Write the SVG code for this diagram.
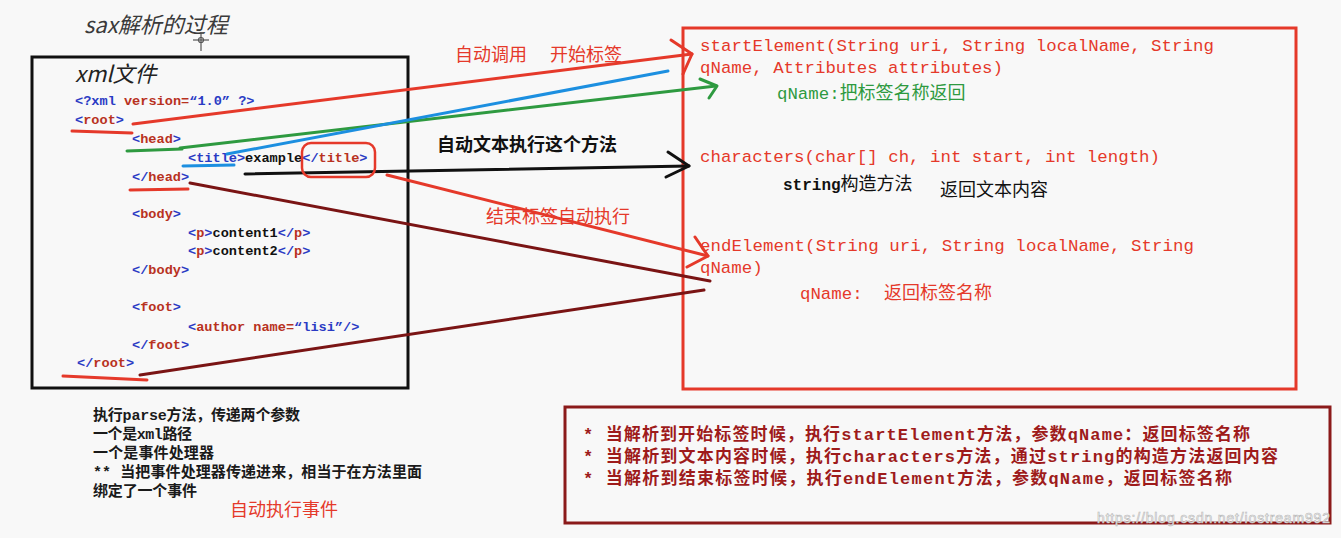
<svg xmlns="http://www.w3.org/2000/svg" width="1341" height="538" viewBox="0 0 1341 538">
<style>
.code{font-family:"Liberation Mono","Noto Sans CJK SC",monospace;font-weight:bold;font-size:13.6px}
.b{fill:#2a3bc4}.r{fill:#b8321f}.k{fill:#111}
.meth{font-family:"Liberation Mono","Noto Sans CJK SC",monospace;font-size:17.4px;fill:#e5392a}
.cjk{font-family:"Noto Sans CJK SC","Liberation Sans",sans-serif}
.note{font-family:"Liberation Mono","Noto Sans CJK SC",monospace;font-weight:bold}
.ln{fill:none;stroke-width:3;stroke-linecap:round;stroke-linejoin:round}
</style>
<rect width="1341" height="538" fill="#f8f8f8"/>

<g id="title">
<text x="84" y="33" class="cjk" font-size="22" font-style="italic" fill="#3a3a3a">sax解析的过程</text>
<g stroke="#555" stroke-width="1.2" fill="none"><line x1="193" y1="40" x2="209" y2="40"/><line x1="201" y1="32" x2="201" y2="51"/><circle cx="201" cy="40" r="2.5"/></g>
</g>

<g id="xml-file">
<rect x="32" y="57" width="376" height="331" fill="none" stroke="#111" stroke-width="3"/>
<text x="75" y="82" class="cjk" font-size="22" font-style="italic" fill="#222">xml文件</text>
<text x="75" y="105" class="code"><tspan class="b">&lt;?xml</tspan><tspan class="r"> version=</tspan><tspan class="b">“1.0” ?&gt;</tspan></text>
<text x="75" y="124" class="code"><tspan class="b">&lt;</tspan><tspan class="r">root</tspan><tspan class="b">&gt;</tspan></text>
<text x="132" y="143" class="code"><tspan class="b">&lt;</tspan><tspan class="r">head</tspan><tspan class="b">&gt;</tspan></text>
<text x="188" y="162" class="code"><tspan class="b">&lt;title&gt;</tspan><tspan class="k">example</tspan><tspan class="b">&lt;/</tspan><tspan class="r">title</tspan><tspan class="b">&gt;</tspan></text>
<text x="132" y="181" class="code"><tspan class="b">&lt;/</tspan><tspan class="r">head</tspan><tspan class="b">&gt;</tspan></text>
<text x="132" y="218" class="code"><tspan class="b">&lt;</tspan><tspan class="r">body</tspan><tspan class="b">&gt;</tspan></text>
<text x="188" y="237" class="code"><tspan class="b">&lt;</tspan><tspan class="r">p</tspan><tspan class="b">&gt;</tspan><tspan class="k">content1</tspan><tspan class="b">&lt;/</tspan><tspan class="r">p</tspan><tspan class="b">&gt;</tspan></text>
<text x="188" y="255" class="code"><tspan class="b">&lt;</tspan><tspan class="r">p</tspan><tspan class="b">&gt;</tspan><tspan class="k">content2</tspan><tspan class="b">&lt;/</tspan><tspan class="r">p</tspan><tspan class="b">&gt;</tspan></text>
<text x="132" y="274" class="code"><tspan class="b">&lt;/</tspan><tspan class="r">body</tspan><tspan class="b">&gt;</tspan></text>
<text x="132" y="311" class="code"><tspan class="b">&lt;</tspan><tspan class="r">foot</tspan><tspan class="b">&gt;</tspan></text>
<text x="188" y="331" class="code"><tspan class="b">&lt;</tspan><tspan class="r">author</tspan><tspan class="r"> name=</tspan><tspan class="b">“lisi”/&gt;</tspan></text>
<text x="132" y="349" class="code"><tspan class="b">&lt;/</tspan><tspan class="r">foot</tspan><tspan class="b">&gt;</tspan></text>
<text x="77" y="367" class="code"><tspan class="b">&lt;/</tspan><tspan class="r">root</tspan><tspan class="b">&gt;</tspan></text>
</g>

<g id="methods">
<rect x="683" y="28" width="613" height="361" fill="none" stroke="#e5392a" stroke-width="3"/>
<text x="700" y="51" class="meth" textLength="514">startElement(String uri, String localName, String</text>
<text x="700" y="73" class="meth" textLength="303">qName, Attributes attributes)</text>
<text x="777" y="99" fill="#2e9a40"><tspan class="meth" style="fill:#2e9a40">qName:</tspan><tspan class="cjk" font-size="18">把标签名称返回</tspan></text>
<text x="700" y="162" class="meth" textLength="460">characters(char[] ch, int start, int length)</text>
<text x="783" y="190" fill="#111"><tspan font-family="Liberation Mono,monospace" font-size="16" font-weight="bold">string</tspan><tspan class="cjk" font-size="18">构造方法</tspan></text>
<text x="940" y="196" class="cjk" font-size="18" fill="#111">返回文本内容</text>
<text x="700" y="251" class="meth" textLength="494">endElement(String uri, String localName, String</text>
<text x="700" y="273" class="meth">qName)</text>
<text x="800" y="299" fill="#e5392a"><tspan class="meth">qName:</tspan><tspan x="884" class="cjk" font-size="18">返回标签名称</tspan></text>
</g>

<g id="labels">
<text x="455" y="61" class="cjk" font-size="18" fill="#e5392a">自动调用<tspan x="550">开始标签</tspan></text>
<text x="437" y="151" class="cjk" font-size="18" font-weight="bold" fill="#111">自动文本执行这个方法</text>
<text x="486" y="223" class="cjk" font-size="18" fill="#e5392a">结束标签自动执行</text>
</g>

<g id="connectors">
<g stroke="#e5392a" class="ln">
<line x1="72" y1="131" x2="132" y2="133"/>
<line x1="133" y1="124" x2="692" y2="54"/>
<polyline points="671,40 692,54 683,74"/>
</g>
<g stroke="#2e9a40" class="ln">
<line x1="127" y1="151" x2="182" y2="149"/>
<line x1="180" y1="148" x2="716" y2="86"/>
<polyline points="700,79 717,86 709,98"/>
</g>
<g stroke="#1c8fe0" class="ln">
<line x1="183" y1="166" x2="234" y2="165"/>
<line x1="227" y1="154" x2="668" y2="71"/>
</g>
<g stroke="#111" class="ln">
<line x1="245" y1="174" x2="689" y2="166"/>
<polyline points="668,152 689,166 666,177"/>
</g>
<rect x="302" y="143" width="73" height="34" rx="9" fill="none" stroke="#e5392a" stroke-width="2.5"/>
<g stroke="#e5392a" class="ln">
<line x1="387" y1="175" x2="708" y2="256"/>
<polyline points="695,237 708,256 687,267"/>
</g>
<g stroke="#e5392a" class="ln">
<line x1="130" y1="190" x2="188" y2="189"/>
<line x1="63" y1="376" x2="147" y2="380"/>
</g>
<g stroke="#7a1414" class="ln">
<line x1="190" y1="183" x2="710" y2="281"/>
<line x1="140" y1="375" x2="704" y2="290"/>
</g>
</g>

<g id="parse-notes" class="note" font-size="15" fill="#1a1a1a">
<text x="93" y="420" textLength="207">执行parse方法，传递两个参数</text>
<text x="93" y="439" textLength="99">一个是xml路径</text>
<text x="93" y="458" textLength="121">一个是事件处理器</text>
<text x="93" y="477" textLength="329">** 当把事件处理器传递进来，相当于在方法里面</text>
<text x="93" y="496" textLength="104">绑定了一个事件</text>
<text x="230" y="516" class="cjk" font-size="18" font-weight="normal" fill="#e5392a">自动执行事件</text>
</g>

<g id="summary">
<rect x="565" y="407" width="765" height="116" fill="none" stroke="#8b1a1a" stroke-width="3"/>
<g class="note" font-size="17" fill="#9e1b1b">
<text x="583" y="440" textLength="667">* 当解析到开始标签时候，执行startElement方法，参数qName：返回标签名称</text>
<text x="583" y="462" textLength="695">* 当解析到文本内容时候，执行characters方法，通过string的构造方法返回内容</text>
<text x="583" y="484" textLength="649">* 当解析到结束标签时候，执行endElement方法，参数qName，返回标签名称</text>
</g>
<text x="1097" y="523" font-family="Liberation Sans,sans-serif" font-size="14" fill="#ffffff" stroke="#b5b5b5" stroke-width="0.6" textLength="233">https://blog.csdn.net/iostream992</text>
</g>
</svg>
